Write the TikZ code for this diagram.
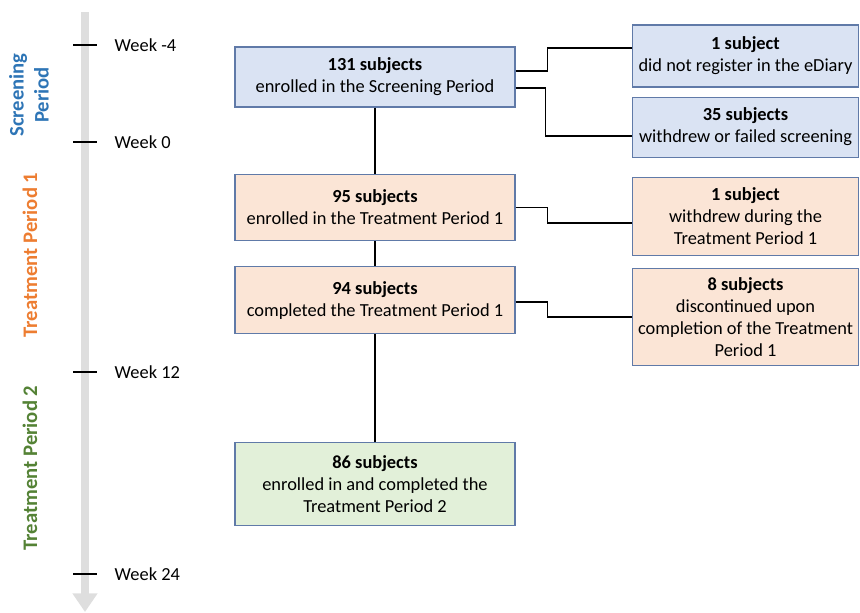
\documentclass[tikz,border=0pt]{standalone}
\usepackage{fontspec}
\setmainfont{Carlito}
\usepackage{xcolor}
\definecolor{ScreenBlue}{RGB}{218,227,243}
\definecolor{TreatOrange}{RGB}{251,229,214}
\definecolor{TreatGreen}{RGB}{226,240,217}
\definecolor{BoxEdge}{RGB}{96,122,168}
\definecolor{AxisGray}{RGB}{222,222,222}
\definecolor{LabelBlue}{RGB}{46,117,182}
\definecolor{LabelOrange}{RGB}{237,125,49}
\definecolor{LabelGreen}{RGB}{84,130,53}
\usepackage{tikz}
\usetikzlibrary{
    arrows.meta,
    positioning,
    calc
}

\begin{document}
\begin{tikzpicture}[
    x=0.75pt, y=-0.75pt,
    font=\fontsize{13.8}{16.5}\selectfont,
    stage/.style={
        draw=BoxEdge,
        minimum width=210pt,
        align=center,
        inner sep=2pt,
        line width=0.8pt
    },
    dropout/.style={
        draw=BoxEdge,
        minimum width=170pt,
        align=center,
        inner sep=2pt,
        line width=0.8pt
    },
    link/.style={
        line width=1.1pt,
        color=black
    },
    tick/.style={
        line width=1.1pt
    },
    period/.style={
        rotate=90,
        font=\fontsize{15.5}{18.75}\selectfont\bfseries,
        align=center
    }
]
\useasboundingbox (0,0) rectangle (860,612);
%
% time axis
\draw[AxisGray, line width=6pt, -{Triangle[width=18pt, length=14pt]}]
    (85,12) -- (85,612);
%
\foreach \wk/\yy in {-4/45, 0/142, 12/372, 24/574} {
    \draw[tick] (73,\yy) -- (97,\yy);
    \node[anchor=west] (wk\yy) at (110,\yy) {Week \wk};
}
%
\node[period, text=LabelBlue] (screening) at (29,95) {Screening\\Period};
\node[period, text=LabelOrange] (tp1) at (30,255) {Treatment Period 1};
\node[period, text=LabelGreen] (tp2) at (30,468) {Treatment Period 2};
%
\node[stage, fill=ScreenBlue, minimum height=45pt] (enrolled) at (375,77) {
    \textbf{131 subjects}\\
    enrolled in the Screening Period
};
%
\node[stage, fill=TreatOrange, minimum height=50pt,
    below=49.5pt of enrolled] (tpone) {
    \textbf{95 subjects}\\
    enrolled in the Treatment Period 1
};
%
\node[stage, fill=TreatOrange, minimum height=50pt,
    below=18.75pt of tpone] (tpdone) {
    \textbf{94 subjects}\\
    completed the Treatment Period 1
};
%
\node[stage, fill=TreatGreen, minimum height=62pt,
    below=81pt of tpdone] (tptwo) {
    \textbf{86 subjects}\\
    enrolled in and completed the\\
    Treatment Period 2
};
%
\node[dropout, fill=ScreenBlue, minimum height=46.5pt] (nodiary) at (745.5,56) {
    \textbf{1 subject}\\
    did not register in the eDiary
};
%
\node[dropout, fill=ScreenBlue, minimum height=45pt,
    below=6.75pt of nodiary] (failed) {
    \textbf{35 subjects}\\
    withdrew or failed screening
};
%
\node[dropout, fill=TreatOrange, minimum height=58.5pt,
    below=14.25pt of failed] (withdrew) {
    \textbf{1 subject}\\
    withdrew during the\\
    Treatment Period 1
};
%
\node[dropout, fill=TreatOrange, minimum height=73pt,
    below=9pt of withdrew] (discont) {
    \textbf{8 subjects}\\
    discontinued upon\\
    completion of the Treatment\\
    Period 1
};
%
\draw[link] (enrolled.south) -- (tpone.north);
\draw[link] (tpone.south) -- (tpdone.north);
\draw[link] (tpdone.south) -- (tptwo.north -| tpdone.south);
%
\draw[link]
    ($(enrolled.east)+(0,-6)$)
    -- ++(32,0)
    |-
    ($(nodiary.west)+(0,-8)$);
%
\draw[link]
    ($(enrolled.east)+(0,11)$)
    -- ++(30,0)
    |-
    ($(failed.west)+(0,9)$);
%
\draw[link]
    (tpone.east)
    -- ++(32,0)
    |-
    ($(withdrew.west)+(0,7)$);
%
\draw[link]
    ($(tpdone.east)+(0,2)$)
    -- ++(32,0)
    |-
    (discont.west);
%
\end{tikzpicture}
\end{document}
